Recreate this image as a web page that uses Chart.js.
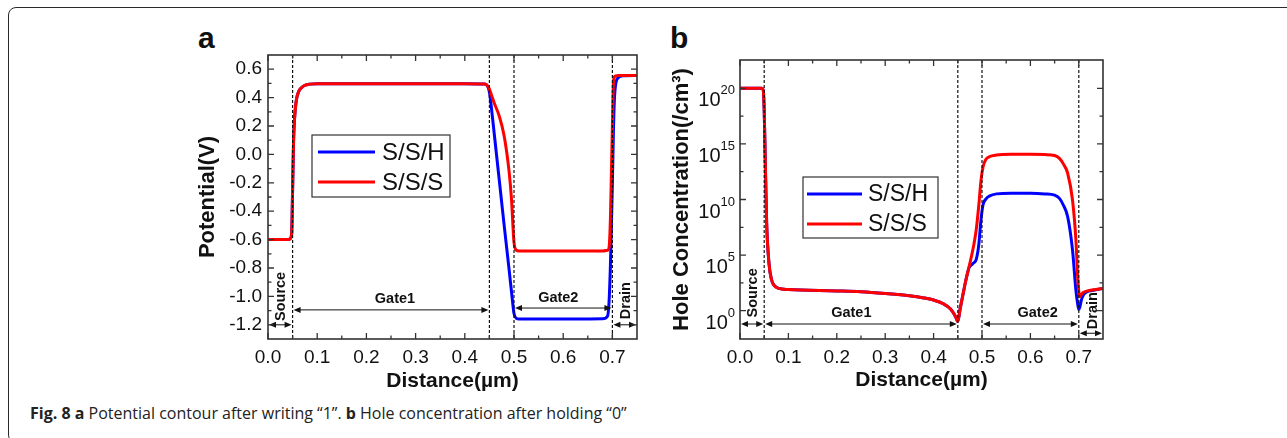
<!DOCTYPE html>
<html>
<head>
<meta charset="utf-8">
<script src="https://cdn.jsdelivr.net/npm/chart.js@4.4.0/dist/chart.umd.min.js"></script>
<style>
  body { margin: 0; background: #fff; width: 1287px; height: 438px; overflow: hidden; position: relative; }
  .frame { position: absolute; left: 8px; top: 7px; width: 1320px; height: 436px; box-sizing: border-box;
           border: 1.5px solid #2a2a2a; border-radius: 8px; }
  .tag { position: absolute; top: 23px; font: bold 30px/30px "Liberation Sans", Arial, sans-serif; color: #111; }
  #chartA { position: absolute; left: 180px; top: 20px; }
  #chartB { position: absolute; left: 660px; top: 20px; }
  .caption { position: absolute; left: 30px; top: 402px; font: 16px/22px "Open Sans", sans-serif; color: #222; white-space: nowrap; }
</style>
</head>
<body>
<div class="frame"></div>
<div class="tag" style="left:198px">a</div>
<div class="tag" style="left:670px">b</div>
<canvas id="chartA" width="470" height="380"></canvas>
<canvas id="chartB" width="450" height="380"></canvas>
<div class="caption"><b>Fig. 8</b> <b>a</b> Potential contour after writing “1”. <b>b</b> Hole concentration after holding “0”</div>
<script>
// axis ticks
const distTicks = [0, 0.1, 0.2, 0.3, 0.4, 0.5, 0.6, 0.7];
const potentialTicks = [-1.2, -1.0, -0.8, -0.6, -0.4, -0.2, 0, 0.2, 0.4, 0.6];
const holeTicks = [1e0, 1e5, 1e10, 1e15, 1e20];

const seriesNames = ['S/S/H', 'S/S/S'];

// device regions along the channel (µm)
const regionNames = ['Source', 'Gate1', 'Gate2', 'Drain'];
const regionStart = [0, 0.05, 0.5, 0.7];
const regionEnd = [0.05, 0.45, 0.7, 0.75];
const boundaries = [0.05, 0.45, 0.5, 0.7];

// (a) potential after writing "1"
const distA = [0, 0.02, 0.04, 0.045, 0.048, 0.05, 0.052, 0.055, 0.058, 0.062, 0.068, 0.075, 0.085, 0.1,
  0.2, 0.3, 0.4, 0.44, 0.445, 0.45, 0.455, 0.46, 0.47, 0.48, 0.49, 0.495, 0.5, 0.505, 0.51,
  0.6, 0.68, 0.69, 0.693, 0.696, 0.698, 0.7, 0.702, 0.704, 0.707, 0.712, 0.72, 0.75];
const potSSH = [-0.6, -0.6, -0.6, -0.595, -0.56, -0.25, 0.1, 0.3, 0.39, 0.44, 0.47, 0.487, 0.495, 0.498,
  0.498, 0.498, 0.497, 0.495, 0.488, 0.44, 0.3, 0.14, -0.18, -0.5, -0.81, -0.97, -1.12, -1.155, -1.16,
  -1.16, -1.158, -1.14, -1.05, -0.78, -0.5, -0.2, 0.15, 0.38, 0.5, 0.54, 0.553, 0.555];
const potSSS = [-0.6, -0.6, -0.6, -0.595, -0.56, -0.25, 0.1, 0.3, 0.39, 0.44, 0.47, 0.487, 0.495, 0.498,
  0.498, 0.498, 0.497, 0.495, 0.488, 0.46, 0.41, 0.36, 0.27, 0.13, -0.12, -0.32, -0.62, -0.675, -0.68,
  -0.68, -0.68, -0.675, -0.66, -0.45, -0.12, 0.2, 0.5, 0.545, 0.552, 0.555, 0.555, 0.555];

// (b) hole concentration after holding "0" (/cm3)
const distB = [0, 0.02, 0.04, 0.045, 0.048, 0.05, 0.052, 0.055, 0.06, 0.065, 0.07, 0.08, 0.1, 0.2, 0.25,
  0.3, 0.35, 0.38, 0.4, 0.42, 0.435, 0.445, 0.45, 0.455, 0.46, 0.467, 0.473, 0.478, 0.483, 0.488,
  0.493, 0.498, 0.502, 0.508, 0.515, 0.53, 0.56, 0.6, 0.63, 0.65, 0.66, 0.668, 0.677, 0.687, 0.694,
  0.698, 0.7, 0.702, 0.705, 0.71, 0.72, 0.735, 0.75];
const holeSSH = [1e20, 1e20, 1e20, 1e20, 7e19, 1e18, 1e14, 1e8, 1.6e4, 630, 200, 100, 80, 60, 50,
  35, 22, 14, 9, 4.2, 1.4, 0.32, 0.11, 1.6, 20, 630, 7e3, 1.3e4, 2e4, 4e4,
  6.3e5, 1.6e8, 3.2e9, 1.1e10, 2e10, 3.2e10, 3.6e10, 3.6e10, 3.2e10, 2.5e10, 1.26e10, 3.2e9, 2.8e8, 2.9e5, 72,
  3.2, 1.26, 2, 8, 28, 56, 75, 100];
const holeSSS = [1e20, 1e20, 1e20, 1e20, 7e19, 1e18, 1e14, 1e8, 1.6e4, 630, 200, 100, 80, 60, 50,
  35, 22, 14, 9, 4.2, 1.4, 0.32, 0.11, 1.6, 20, 630, 8e3, 7e4, 8e5, 1.8e7,
  2e9, 5.6e11, 8e12, 4e13, 7e13, 1e14, 1.15e14, 1.15e14, 1.1e14, 9e13, 5e13, 1.6e13, 2.3e12, 9e9, 2.3e6,
  580, 50, 18, 28, 45, 63, 80, 100];

const FONT = '"Liberation Sans", Arial, sans-serif';
Chart.defaults.font.family = FONT;
Chart.defaults.color = '#111';

function drawArrow(ctx, x1, x2, y) {
  const h = 7, w = 3;
  ctx.beginPath();
  ctx.moveTo(x1 + h - 1, y); ctx.lineTo(x2 - h + 1, y);
  ctx.stroke();
  ctx.beginPath();
  ctx.moveTo(x1, y); ctx.lineTo(x1 + h, y - w); ctx.lineTo(x1 + h, y + w); ctx.closePath();
  ctx.moveTo(x2, y); ctx.lineTo(x2 - h, y - w); ctx.lineTo(x2 - h, y + w); ctx.closePath();
  ctx.fill();
}

// boundaries, region arrows, boxed frame with inward ticks, legend
const deviceFrame = {
  id: 'deviceFrame',
  afterDatasetsDraw(chart, args, opts) {
    const { ctx, chartArea: a, scales: { x, y } } = chart;
    ctx.save();
    ctx.strokeStyle = '#111';
    ctx.fillStyle = '#111';

    ctx.lineWidth = 1.2;
    ctx.setLineDash([3, 2]);
    boundaries.forEach(b => {
      const px = x.getPixelForValue(b);
      ctx.beginPath(); ctx.moveTo(px, a.top); ctx.lineTo(px, a.bottom); ctx.stroke();
    });
    ctx.setLineDash([]);

    ctx.lineWidth = 1;
    ctx.font = 'bold 14.5px ' + FONT;
    ctx.textAlign = 'center';
    ctx.textBaseline = 'middle';
    regionNames.forEach((name, i) => {
      const x1 = x.getPixelForValue(regionStart[i]);
      const x2 = x.getPixelForValue(regionEnd[i]);
      drawArrow(ctx, x1 + 1, x2 - 1, y.getPixelForValue(opts.arrowAt[i]));
      const lx = x.getPixelForValue(opts.labelX[i]);
      const ly = y.getPixelForValue(opts.labelY[i]);
      if (name === 'Source' || name === 'Drain') {
        ctx.save();
        ctx.translate(lx, ly);
        ctx.rotate(-Math.PI / 2);
        ctx.fillText(name, 0, 0);
        ctx.restore();
      } else {
        ctx.fillText(name, lx, ly);
      }
    });

    // frame
    ctx.lineWidth = 1.6;
    ctx.strokeStyle = '#333';
    ctx.strokeRect(a.left, a.top, a.right - a.left, a.bottom - a.top);

    // inward ticks on all four sides, minor ticks halfway
    ctx.lineWidth = 1.3;
    const tick = (p, len, vertical) => {
      ctx.beginPath();
      if (vertical) {
        ctx.moveTo(p, a.bottom); ctx.lineTo(p, a.bottom - len);
        ctx.moveTo(p, a.top); ctx.lineTo(p, a.top + len);
      } else {
        ctx.moveTo(a.left, p); ctx.lineTo(a.left + len, p);
        ctx.moveTo(a.right, p); ctx.lineTo(a.right - len, p);
      }
      ctx.stroke();
    };
    [[x, true], [y, false]].forEach(([s, vertical]) => {
      const px = s.ticks.map(t => s.getPixelForValue(t.value));
      px.forEach((p, i) => {
        tick(p, 6, vertical);
        if (i > 0) tick((p + px[i - 1]) / 2, 3.5, vertical);
      });
    });

    // powers of ten on the log axis
    if (opts.powerLabels) {
      ctx.fillStyle = '#111';
      ctx.textAlign = 'right';
      ctx.textBaseline = 'alphabetic';
      y.ticks.forEach(t => {
        const py = y.getPixelForValue(t.value);
        const exp = String(Math.round(Math.log10(t.value)));
        const right = a.left - 5;
        ctx.font = '13px ' + FONT;
        const ew = ctx.measureText(exp).width;
        ctx.fillText(exp, right, py + 6);
        ctx.font = '20px ' + FONT;
        ctx.fillText('10', right - ew, py + 18);
      });
    }

    // legend box
    const L = opts.legend;
    ctx.fillStyle = '#fff';
    ctx.fillRect(L.x, L.y, L.w, L.h);
    ctx.strokeStyle = '#333';
    ctx.lineWidth = 1.2;
    ctx.strokeRect(L.x, L.y, L.w, L.h);
    ctx.font = L.size + 'px ' + FONT;
    ctx.textAlign = 'left';
    ctx.textBaseline = 'middle';
    chart.data.datasets.forEach((ds, i) => {
      const ry = L.rows[i];
      ctx.strokeStyle = ds.borderColor;
      ctx.lineWidth = 3;
      ctx.beginPath(); ctx.moveTo(L.x1, ry); ctx.lineTo(L.x2, ry); ctx.stroke();
      ctx.fillStyle = '#111';
      ctx.fillText(ds.label, L.tx, ry + 1);
    });
    ctx.restore();
  }
};

const distAxis = (fitHeight, titlePad) => ({
  type: 'linear', min: 0, max: 0.75,
  afterBuildTicks: s => { s.ticks = distTicks.map(v => ({ value: v })); },
  afterFit: s => { s.height = fitHeight; },
  grid: { display: false, drawTicks: false },
  border: { display: false },
  ticks: { padding: 7, font: { size: 19 }, color: '#111', autoSkip: false, maxRotation: 0,
           callback: v => v.toFixed(1) },
  title: { display: true, text: 'Distance(µm)', font: { size: 21, weight: 'bold' }, color: '#111',
           padding: { top: 0, bottom: titlePad } }
});

const lineOptions = {
  responsive: false,
  animation: false,
  events: [],
  elements: { point: { radius: 0 }, line: { borderWidth: 3, cubicInterpolationMode: 'monotone' } }
};

new Chart(document.getElementById('chartA'), {
  type: 'line',
  data: {
    datasets: [
      { label: seriesNames[0], data: distA.map((d, i) => ({ x: d, y: potSSH[i] })), borderColor: '#0000ff', order: 1 },
      { label: seriesNames[1], data: distA.map((d, i) => ({ x: d, y: potSSS[i] })), borderColor: '#ff0000', order: 0 }
    ]
  },
  options: {
    ...lineOptions,
    layout: { padding: { top: 35, right: 13, left: 0, bottom: 0 } },
    plugins: {
      legend: { display: false },
      tooltip: { enabled: false },
      deviceFrame: {
        arrowAt: [-1.2, -1.095, -1.082, -1.2],
        labelX: [0.026, 0.258, 0.59, 0.727],
        labelY: [-1.0, -1.02, -1.01, -1.03],
        legend: { x: 132, y: 115, w: 138, h: 62, x1: 138, x2: 195, tx: 202, rows: [132, 162], size: 24 }
      }
    },
    scales: {
      x: distAxis(61, 6),
      y: {
        type: 'linear', min: -1.3, max: 0.7,
        afterBuildTicks: s => { s.ticks = potentialTicks.map(v => ({ value: v })); },
        afterFit: s => { s.width = 88; },
        grid: { display: false, drawTicks: false },
        border: { display: false },
        ticks: { padding: 6, font: { size: 19 }, color: '#111', autoSkip: false, callback: v => v.toFixed(1) },
        title: { display: true, text: 'Potential(V)', font: { size: 22, weight: 'bold' }, color: '#111',
                 padding: { top: 15, bottom: 0 } }
      }
    }
  },
  plugins: [deviceFrame]
});

new Chart(document.getElementById('chartB'), {
  type: 'line',
  data: {
    datasets: [
      { label: seriesNames[0], data: distB.map((d, i) => ({ x: d, y: holeSSH[i] })), borderColor: '#0000ff', order: 1 },
      { label: seriesNames[1], data: distB.map((d, i) => ({ x: d, y: holeSSS[i] })), borderColor: '#ff0000', order: 0 }
    ]
  },
  options: {
    ...lineOptions,
    layout: { padding: { top: 40, right: 7, left: 0, bottom: 0 } },
    plugins: {
      legend: { display: false },
      tooltip: { enabled: false },
      deviceFrame: {
        powerLabels: true,
        arrowAt: [0.063, 0.063, 0.063, 0.0093],
        labelX: [0.026, 0.23, 0.615, 0.73],
        labelY: [40, 0.575, 0.575, 1],
        legend: { x: 143, y: 157, w: 135, h: 61, x1: 147, x2: 202, tx: 208, rows: [174, 204], size: 23 }
      }
    },
    scales: {
      x: distAxis(61, 7),
      y: {
        type: 'logarithmic', min: Math.pow(10, -2.55), max: Math.pow(10, 22.55),
        afterBuildTicks: s => { s.ticks = holeTicks.map(v => ({ value: v })); },
        afterFit: s => { s.width = 80; },
        grid: { display: false, drawTicks: false },
        border: { display: false },
        ticks: { display: false },
        title: { display: true, text: 'Hole Concentration(/cm³)', font: { size: 22, weight: 'bold' }, color: '#111',
                 padding: { top: 9, bottom: 0 } }
      }
    }
  },
  plugins: [deviceFrame]
});
</script>
</body>
</html>
